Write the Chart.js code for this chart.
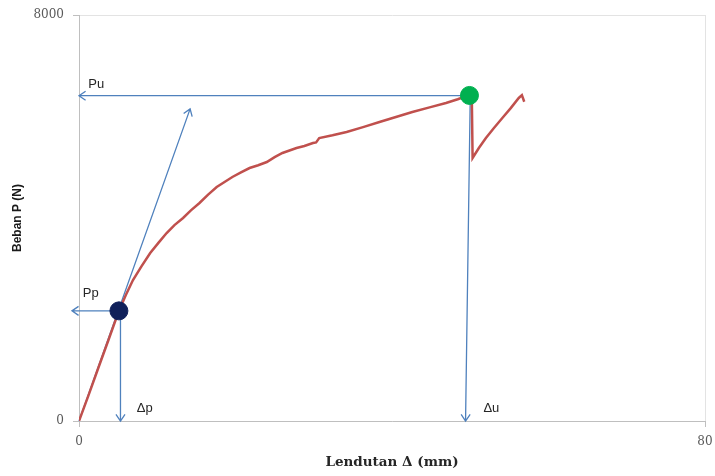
<!DOCTYPE html>
<html>
<head>
<meta charset="utf-8">
<script src="https://cdn.jsdelivr.net/npm/chart.js@4.4.1/dist/chart.umd.min.js"></script>
<style>
    body { margin: 0; background: #ffffff; }
    #wrap { width: 715px; height: 476px; }
</style>
</head>
<body>
<div id="wrap"><canvas id="chart" width="715" height="476"></canvas></div>
<script>
// load-deflection curve
var deflection = [0, 1.2, 2.5, 3.8, 5.1, 6.0, 6.9, 8.0, 9.1, 10.2, 11.2, 12.2, 13.3, 14.3, 15.4, 16.5, 17.6,
    18.6, 19.6, 20.7, 21.8, 22.9, 24.0, 25.0, 26.0, 26.9, 27.8, 28.8, 29.9, 30.3, 30.7, 32.4, 34.2, 36.3,
    38.4, 40.5, 42.6, 44.8, 46.9, 48.4, 49.9, 50.2, 50.3, 51.1, 52.0, 53.0, 54.1, 55.2, 56.2, 56.6, 56.9];
var load = [0, 500, 1060, 1610, 2170, 2486, 2778, 3050, 3310, 3520, 3704, 3860, 4000, 4150, 4296, 4460, 4611,
    4710, 4808, 4900, 4985, 5040, 5103, 5200, 5281, 5330, 5379, 5420, 5478, 5490, 5576, 5630, 5695, 5790,
    5892, 5990, 6089, 6180, 6266, 6340, 6424, 6380, 5182, 5380, 5576, 5770, 5970, 6170, 6365, 6420, 6290];

// proportional limit (Pp, Δp) and ultimate point (Pu, Δu)
var proportionalPoint = [5.1, 2170];
var ultimatePoint = [49.9, 6415];

// annotation arrows: [from x, from y, to x, to y]
var arrows = [
    [49.9, 6410, 0, 6410],
    [5.1, 2170, -0.9, 2170],
    [5.3, 2170, 5.3, 0],
    [50.0, 6410, 49.4, 0],
    [0, 0, 14.2, 6150]
];
var arrowLabels = ['Pu', 'Pp', '\u0394p', '\u0394u'];
var arrowLabelX = [2.2, 1.5, 8.4, 52.7];
var arrowLabelY = [6640, 2520, 256, 256];

var xTicks = [0, 80];
var yTicks = [0, 8000];

function toPoints(xs, ys) {
    var pts = [];
    for (var i = 0; i < xs.length; i++) {
        pts.push({x: xs[i], y: ys[i]});
    }
    return pts;
}

function drawArrow(ctx, x1, y1, x2, y2) {
    var ang = Math.atan2(y2 - y1, x2 - x1);
    var head = 8;
    ctx.beginPath();
    ctx.moveTo(x1, y1);
    ctx.lineTo(x2, y2);
    ctx.moveTo(x2 - head * Math.cos(ang - 0.6), y2 - head * Math.sin(ang - 0.6));
    ctx.lineTo(x2, y2);
    ctx.lineTo(x2 - head * Math.cos(ang + 0.6), y2 - head * Math.sin(ang + 0.6));
    ctx.stroke();
}

var annotationPlugin = {
    id: 'annotations',
    beforeDatasetsDraw: function (chart) {
        var ctx = chart.ctx;
        var xs = chart.scales.x, ys = chart.scales.y;
        ctx.save();
        ctx.strokeStyle = '#4f81bd';
        ctx.lineWidth = 1.3;
        arrows.forEach(function (a) {
            drawArrow(ctx, xs.getPixelForValue(a[0]), ys.getPixelForValue(a[1]),
                xs.getPixelForValue(a[2]), ys.getPixelForValue(a[3]));
        });
        ctx.restore();
    },
    afterDatasetsDraw: function (chart) {
        var ctx = chart.ctx;
        var xs = chart.scales.x, ys = chart.scales.y;
        ctx.save();
        ctx.fillStyle = '#262626';
        ctx.font = '13px "Liberation Sans", Arial, sans-serif';
        ctx.textAlign = 'center';
        ctx.textBaseline = 'middle';
        for (var i = 0; i < arrowLabels.length; i++) {
            ctx.fillText(arrowLabels[i], xs.getPixelForValue(arrowLabelX[i]), ys.getPixelForValue(arrowLabelY[i]));
        }
        ctx.restore();
    }
};

var tickFont = {family: '"DejaVu Serif", serif', size: 12};

function plainLabel(value) {
    return String(value);
}

var chart = new Chart(document.getElementById('chart'), {
    type: 'scatter',
    data: {
        datasets: [{
            data: [{x: proportionalPoint[0], y: proportionalPoint[1]}],
            pointRadius: 9,
            pointBackgroundColor: '#10205a',
            pointBorderColor: '#10205a',
            order: 1
        }, {
            data: [{x: ultimatePoint[0], y: ultimatePoint[1]}],
            pointRadius: 9,
            pointBackgroundColor: '#00b050',
            pointBorderColor: '#00b050',
            order: 1
        }, {
            data: toPoints(deflection, load),
            showLine: true,
            borderColor: '#c0504d',
            borderWidth: 2.5,
            pointRadius: 0,
            tension: 0,
            order: 2
        }]
    },
    options: {
        responsive: false,
        animation: false,
        layout: {padding: {top: 15, right: 9, left: 0, bottom: 0}},
        plugins: {
            legend: {display: false},
            tooltip: {enabled: false}
        },
        scales: {
            x: {
                type: 'linear',
                min: 0,
                max: 80,
                afterBuildTicks: function (scale) {
                    scale.ticks = xTicks.map(function (v) { return {value: v}; });
                },
                afterFit: function (scale) {
                    scale.height = 55;
                    scale.paddingLeft = 0;
                    scale.paddingRight = 0;
                },
                ticks: {font: tickFont, color: '#595959', padding: 8, maxRotation: 0, callback: plainLabel},
                grid: {color: '#e3e3e3', tickColor: '#bfbfbf', tickLength: 6},
                border: {color: '#bfbfbf'},
                title: {
                    display: true,
                    text: 'Lendutan \u0394 (mm)',
                    color: '#262626',
                    font: {family: '"DejaVu Serif", serif', size: 13.5, weight: 'bold'},
                    padding: {top: 0, bottom: 5}
                }
            },
            y: {
                type: 'linear',
                min: 0,
                max: 8000,
                afterBuildTicks: function (scale) {
                    scale.ticks = yTicks.map(function (v) { return {value: v}; });
                },
                afterFit: function (scale) {
                    scale.width = 79;
                    scale.paddingTop = 0;
                    scale.paddingBottom = 0;
                },
                ticks: {font: tickFont, color: '#595959', padding: 9, callback: plainLabel},
                grid: {color: '#e3e3e3', tickColor: '#bfbfbf', tickLength: 6},
                border: {color: '#bfbfbf'},
                title: {
                    display: true,
                    text: 'Beban P (N)',
                    color: '#1a1a1a',
                    font: {family: '"Liberation Sans", Arial, sans-serif', size: 12, weight: 'bold'},
                    padding: {top: 10, bottom: 0}
                }
            }
        }
    },
    plugins: [annotationPlugin]
});
</script>
</body>
</html>
